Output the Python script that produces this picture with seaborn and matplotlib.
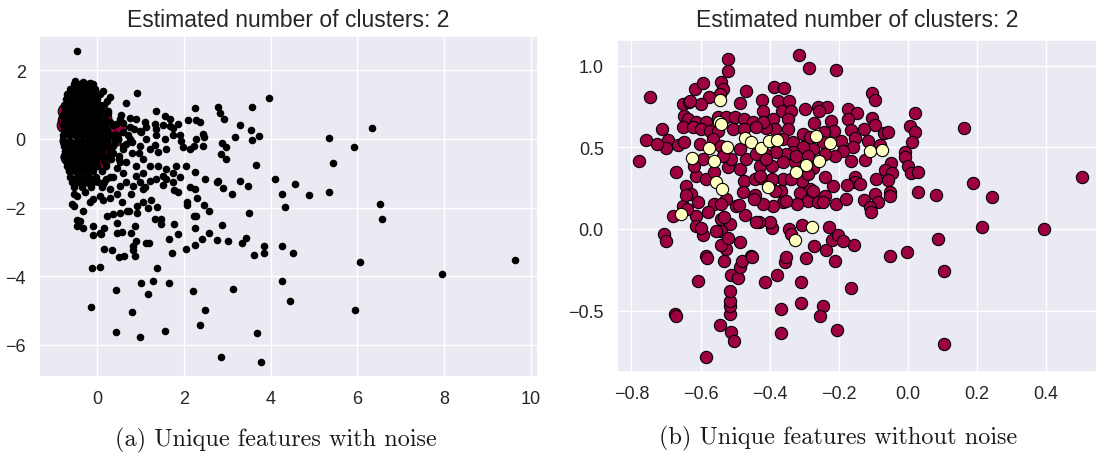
import matplotlib
matplotlib.use("Agg")
import matplotlib.pyplot as plt
import pandas as pd
import seaborn as sns

sns.set_theme(style="darkgrid")
plt.rcParams["font.family"] = ["Liberation Sans", "DejaVu Sans"]

title_text = "Estimated number of clusters: 2"
caption_a = "(a) Unique features with noise"
caption_b = "(b) Unique features without noise"
cluster_colors = ["#9e0142", "#ffffbf"]
noise_color = "black"

left_xticks = [0, 2, 4, 6, 8, 10]
left_yticks = [-6, -4, -2, 0, 2]
right_xticks = [-0.8, -0.6, -0.4, -0.2, 0.0, 0.2, 0.4]
right_yticks = [-0.5, 0.0, 0.5, 1.0]

# cluster 0 (maroon) core samples
cluster0 = [
    (-0.315, 1.067), (-0.285, 0.986), (-0.207, 0.976), (-0.388, 0.867), (-0.359, 0.863),
    (-0.103, 0.833), (-0.095, 0.79), (0.021, 0.71), (0.161, 0.616), (0.504, 0.316),
    (0.005, 0.629), (0.02, 0.592), (0.011, 0.531), (-0.008, 0.469), (-0.008, 0.439),
    (0.001, 0.388), (0.008, 0.341), (0.029, 0.347), (0.029, 0.224), (0.08, 0.208),
    (0.187, 0.282), (0.243, 0.194), (0.214, 0.014), (0.393, 0.002), (0.086, -0.061),
    (-0.002, -0.139), (-0.052, -0.163), (0.105, -0.259), (0.105, -0.706), (-0.164, -0.361),
    (-0.205, -0.618), (-0.245, -0.471), (-0.255, -0.535), (-0.309, -0.453), (-0.309, -0.324),
    (-0.368, -0.635), (-0.367, -0.49), (-0.379, -0.284), (-0.415, -0.327), (-0.357, -0.2),
    (-0.295, -0.18), (-0.211, -0.198), (-0.156, -0.098), (-0.271, -0.106), (-0.237, -0.127),
    (-0.22, -0.065), (-0.201, -0.04), (-0.189, -0.075), (-0.229, 0.01), (-0.306, 0.022),
    (-0.343, -0.002), (-0.394, 0.004), (-0.4, 0.041), (-0.43, 0.041),
    (-0.421, 0.79), (-0.376, 0.782), (-0.344, 0.782), (-0.419, 0.724), (-0.364, 0.72),
    (-0.337, 0.724), (-0.299, 0.735), (-0.26, 0.745), (-0.233, 0.749), (-0.173, 0.737),
    (-0.147, 0.712), (-0.257, 0.72), (-0.39, 0.673), (-0.347, 0.673), (-0.273, 0.649),
    (-0.224, 0.661), (-0.174, 0.671), (-0.103, 0.682), (-0.096, 0.637), (-0.126, 0.612),
    (-0.164, 0.604), (-0.215, 0.602), (-0.244, 0.596), (-0.286, 0.563), (-0.305, 0.584),
    (-0.347, 0.612), (-0.386, 0.612), (-0.41, 0.616), (-0.07, 0.588), (-0.057, 0.592),
    (-0.39, 0.531), (-0.361, 0.551), (-0.332, 0.531), (-0.284, 0.561), (-0.246, 0.531),
    (-0.193, 0.541), (-0.154, 0.555), (-0.117, 0.541), (-0.082, 0.514), (-0.159, 0.5),
    (-0.188, 0.48), (-0.212, 0.449), (-0.241, 0.459), (-0.275, 0.49), (-0.304, 0.5),
    (-0.332, 0.469), (-0.352, 0.459), (-0.381, 0.469), (-0.415, 0.459), (-0.429, 0.388),
    (-0.393, 0.388), (-0.361, 0.408), (-0.328, 0.408), (-0.275, 0.374), (-0.165, 0.416),
    (-0.125, 0.424), (-0.05, 0.404), (-0.066, 0.363), (-0.045, 0.343), (-0.092, 0.304),
    (-0.059, 0.298), (-0.152, 0.32), (-0.154, 0.286), (-0.139, 0.276), (-0.176, 0.272),
    (-0.217, 0.265), (-0.241, 0.316), (-0.284, 0.245), (-0.308, 0.296), (-0.361, 0.306),
    (-0.393, 0.306), (-0.424, 0.31), (-0.366, 0.235), (-0.313, 0.22), (-0.289, 0.17),
    (-0.26, 0.168), (-0.241, 0.204), (-0.207, 0.153), (-0.178, 0.184), (-0.128, 0.178),
    (-0.096, 0.214), (-0.086, 0.168), (-0.053, 0.225), (-0.053, 0.204), (-0.11, 0.133),
    (-0.108, 0.102), (-0.361, 0.163), (-0.39, 0.143), (-0.419, 0.153), (-0.321, 0.153),
    (-0.246, 0.163),
    (-0.521, 1.041), (-0.521, 0.97), (-0.615, 0.857), (-0.593, 0.894), (-0.47, 0.847),
    (-0.54, 0.898), (-0.535, 0.857), (-0.545, 0.827), (-0.576, 0.806), (-0.651, 0.766),
    (-0.634, 0.776), (-0.598, 0.766), (-0.487, 0.772), (-0.649, 0.694), (-0.637, 0.674),
    (-0.613, 0.653), (-0.584, 0.653), (-0.55, 0.684), (-0.526, 0.684), (-0.499, 0.684),
    (-0.473, 0.674), (-0.449, 0.653), (-0.42, 0.653), (-0.713, 0.613), (-0.695, 0.545),
    (-0.666, 0.515), (-0.7, 0.494), (-0.651, 0.623), (-0.622, 0.623), (-0.598, 0.613),
    (-0.574, 0.602), (-0.55, 0.602), (-0.506, 0.613), (-0.473, 0.613), (-0.439, 0.623),
    (-0.671, 0.347), (-0.642, 0.266), (-0.613, 0.327), (-0.627, 0.215), (-0.608, 0.164),
    (-0.584, 0.306), (-0.56, 0.347), (-0.521, 0.378), (-0.487, 0.368), (-0.468, 0.429),
    (-0.439, 0.46), (-0.41, 0.429), (-0.323, 0.449), (-0.289, 0.449), (-0.487, 0.49),
    (-0.511, 0.429), (-0.564, 0.551), (-0.603, 0.521), (-0.647, 0.531), (-0.54, 0.511),
    (-0.535, 0.449), (-0.593, 0.429), (-0.618, 0.388), (-0.473, 0.296), (-0.444, 0.307),
    (-0.429, 0.327), (-0.337, 0.307), (-0.289, 0.337), (-0.275, 0.235), (-0.386, 0.235),
    (-0.444, 0.205), (-0.477, 0.225), (-0.497, 0.143), (-0.526, 0.184), (-0.56, 0.153),
    (-0.579, 0.103), (-0.613, 0.082), (-0.651, 0.143), (-0.68, 0.082), (-0.54, 0.062),
    (-0.516, 0.031), (-0.613, 0.021), (-0.593, -0.04), (-0.54, -0.01), (-0.487, -0.081),
    (-0.526, -0.122), (-0.584, -0.163), (-0.54, -0.101), (-0.439, 0.041), (-0.337, -0.03),
    (-0.705, -0.03), (-0.453, -0.163), (-0.352, -0.173),
    (-0.746, 0.81), (-0.757, 0.547), (-0.777, 0.418), (-0.727, 0.52), (-0.631, 0.786),
    (-0.641, 0.208),
    (-0.701, -0.071), (-0.6, 0.004), (-0.581, -0.18), (-0.608, -0.32), (-0.674, -0.52),
    (-0.671, -0.535), (-0.583, -0.784), (-0.545, -0.588), (-0.513, -0.629), (-0.503, -0.684),
    (-0.515, -0.52), (-0.515, -0.473), (-0.515, -0.443), (-0.515, -0.378), (-0.513, -0.282),
    (-0.491, -0.302), (-0.487, -0.235), (-0.479, -0.194), (-0.45, -0.173), (-0.532, -0.194),
    (-0.522, -0.057), (-0.556, -0.01), (-0.532, 0.071), (-0.472, 0.088), (-0.639, 0.122),
    (-0.542, 0.153), (-0.489, 0.147), (-0.445, 0.184), (-0.354, 0.173),
]

# cluster 1 (pale yellow) core samples
cluster1 = [
    (-0.544, 0.788), (-0.547, 0.657), (-0.54, 0.643), (-0.577, 0.494), (-0.523, 0.5),
    (-0.624, 0.437), (-0.561, 0.417), (-0.472, 0.557), (-0.453, 0.531), (-0.426, 0.494),
    (-0.402, 0.541), (-0.378, 0.547), (-0.265, 0.567), (-0.294, 0.392), (-0.323, 0.351),
    (-0.555, 0.29), (-0.538, 0.245), (-0.405, 0.259), (-0.656, 0.092), (-0.279, 0.01),
    (-0.328, -0.067), (-0.225, 0.529), (-0.111, 0.476), (-0.076, 0.486), (-0.257, 0.414),
]

# noise samples (left panel only)
noise = [
    # dense core region
    (-0.55, 1.6), (-0.4, 1.6), (-0.25, 1.6), (-0.1, 1.6),
    (-0.62, 1.45), (-0.48, 1.45), (-0.33, 1.45), (-0.18, 1.45), (-0.05, 1.45),
    (-0.7, 1.3), (-0.55, 1.3), (-0.4, 1.3), (-0.25, 1.3), (-0.1, 1.3), (0.05, 1.3),
    (-0.72, 1.15), (-0.58, 1.15), (-0.44, 1.15), (-0.3, 1.15), (-0.15, 1.15), (0.0, 1.15), (0.22, 1.1), (0.3, 1.22),
    (-0.78, 1.0), (-0.64, 1.0), (-0.5, 1.0), (-0.36, 1.0), (-0.22, 1.0), (-0.08, 1.0), (0.06, 1.0), (0.15, 0.98),
    (-0.75, 0.85), (-0.6, 0.85), (-0.46, 0.85), (-0.32, 0.85), (-0.18, 0.85), (-0.04, 0.85), (0.08, 0.85),
    (-0.8, 0.7), (-0.66, 0.7), (-0.52, 0.7), (-0.38, 0.7), (-0.24, 0.7), (-0.1, 0.7), (0.04, 0.7), (0.25, 0.75),
    (-0.76, 0.55), (-0.62, 0.55), (-0.48, 0.55), (-0.34, 0.55), (-0.2, 0.55), (-0.06, 0.55), (0.08, 0.55), (0.2, 0.55),
    (-0.8, 0.4), (-0.66, 0.4), (-0.52, 0.4), (-0.38, 0.4), (-0.24, 0.4), (-0.1, 0.4), (0.04, 0.4), (0.18, 0.4), (0.35, 0.4),
    (-0.77, 0.25), (-0.63, 0.25), (-0.49, 0.25), (-0.35, 0.25), (-0.21, 0.25), (-0.07, 0.25), (0.07, 0.25), (0.22, 0.25),
    (-0.8, 0.1), (-0.66, 0.1), (-0.52, 0.1), (-0.38, 0.1), (-0.24, 0.1), (-0.1, 0.1), (0.04, 0.1), (0.18, 0.1), (0.32, 0.1), (0.45, 0.1),
    (-0.76, -0.05), (-0.62, -0.05), (-0.48, -0.05), (-0.34, -0.05), (-0.2, -0.05), (-0.06, -0.05), (0.08, -0.05), (0.22, -0.05), (0.4, -0.05),
    (-0.78, -0.2), (-0.64, -0.2), (-0.5, -0.2), (-0.36, -0.2), (-0.22, -0.2), (-0.08, -0.2), (0.06, -0.2), (0.2, -0.2), (0.35, -0.2), (0.6, -0.2),
    (-0.74, -0.35), (-0.6, -0.35), (-0.46, -0.35), (-0.32, -0.35), (-0.18, -0.35), (-0.04, -0.35), (0.1, -0.35), (0.3, -0.35),
    (-0.76, -0.5), (-0.62, -0.5), (-0.48, -0.5), (-0.34, -0.5), (-0.2, -0.5), (-0.06, -0.5), (0.08, -0.5), (0.25, -0.5), (0.5, -0.5),
    (-0.72, -0.65), (-0.58, -0.65), (-0.44, -0.65), (-0.3, -0.65), (-0.16, -0.65), (-0.02, -0.65), (0.15, -0.65),
    (-0.7, -0.8), (-0.56, -0.8), (-0.42, -0.8), (-0.28, -0.8), (-0.14, -0.8), (0.0, -0.8), (0.2, -0.8), (0.45, -0.85),
    (-0.66, -0.95), (-0.52, -0.95), (-0.38, -0.95), (-0.24, -0.95), (-0.1, -0.95), (0.1, -0.95),
    (-0.62, -1.1), (-0.48, -1.1), (-0.34, -1.1), (-0.2, -1.1), (-0.02, -1.1), (0.3, -1.1),
    (-0.58, -1.25), (-0.42, -1.25), (-0.26, -1.25), (-0.1, -1.25), (0.15, -1.25),
    (-0.55, -1.4), (-0.35, -1.4), (-0.15, -1.4), (0.1, -1.4),
    (0.3, 0.5), (0.4, 0.0), (0.35, -0.4), (0.6, -0.3), (0.7, 0.1), (0.55, 0.7), (0.8, -0.4),
    (0.25, 0.8), (0.6, 0.45), (0.85, 0.3), (0.65, -0.15), (0.5, -0.6), (0.8, -0.1), (1.0, 0.2), (0.95, -0.4),
    # upper / middle spread
    (-0.47, 2.57), (3.95, 1.19), (0.92, 1.35), (0.66, 1.05), (0.13, 1.4), (-0.1, 1.48),
    (-0.18, 1.64), (-0.33, 1.66), (-0.51, 1.68), (1.35, 0.8), (2.26, 0.9), (2.78, 0.93),
    (2.82, 0.76), (2.93, 0.59), (3.57, 0.93), (3.29, 0.41), (3.54, 0.26), (3.58, -0.03),
    (3.73, 0.08), (3.18, 0.05), (2.88, -0.12), (2.96, -0.24), (2.86, -0.44), (2.97, -0.59),
    (3.65, -0.76), (2.25, -0.96), (2.48, -1.17),
    (2.09, 0.54), (2.28, 0.54), (2.38, 0.49), (2.44, 0.15), (2.46, 0.05), (2.44, -0.2),
    (2.28, 0.0), (2.22, -0.2), (2.14, -0.29), (1.97, -0.24),
    (1.85, 0.44), (1.74, 0.31), (1.74, 0.1), (1.9, 0.1), (1.94, -0.05), (2.05, -0.78),
    (1.82, -0.8), (1.74, -0.98), (1.59, -0.88), (1.9, -1.12),
    (1.55, 0.68), (1.67, 0.59), (1.68, 0.39), (1.51, 0.41), (1.32, 0.44), (1.36, 0.29),
    (1.13, 0.34), (1.36, 0.1), (1.55, 0.0), (1.59, -0.29), (1.41, -0.39), (1.21, -0.29),
    (1.13, 0.0), (1.32, -0.17),
    (0.75, 0.6), (0.9, 0.59), (1.09, 0.49), (0.98, 0.24), (0.75, 0.34), (0.59, 0.2),
    (0.52, 0.59), (0.44, 0.44),
    (0.48, 0.0), (0.75, 0.0), (0.98, -0.2), (1.05, -0.59), (1.21, -0.78), (1.4, -0.78),
    (0.9, -0.78), (0.67, -0.68), (0.52, -0.68), (0.32, -0.59), (0.59, -0.98), (0.36, -1.12),
    (0.21, -1.17), (0.13, -1.32), (0.29, -1.46), (0.52, -1.37), (0.67, -1.27), (0.82, -1.37),
    (0.98, -1.27), (1.09, -1.41), (1.21, -1.22), (1.36, -1.17), (1.51, -1.07), (1.59, -1.17),
    (0.9, -1.07), (1.05, -0.98),
    (-0.29, -1.56), (-0.48, -1.66), (-0.1, -1.76), (0.05, -1.66), (-0.41, -2.39),
    (-0.1, -2.54), (0.05, -2.73), (-0.32, -1.27), (-0.17, -1.32), (0.02, -1.27),
    (6.33, 0.32), (5.35, 0.02), (5.93, -0.25), (5.43, -0.7),
    # lower spread
    (6.52, -1.91), (6.57, -2.34), (5.34, -1.54), (4.89, -1.63), (4.55, -1.32), (4.27, -1.61),
    (4.32, -1.98), (4.1, -1.17), (3.5, -2.15), (3.48, -1.37), (3.3, -1.22), (3.11, -1.61),
    (2.89, -1.43), (2.87, -2.5), (6.06, -3.59), (7.95, -3.93), (9.64, -3.54), (5.95, -4.99),
    (4.27, -4.13), (4.45, -4.72), (4.51, -3.32), (4.25, -3.12), (3.85, -3.12), (3.85, -3.32),
    (3.62, -3.37), (3.44, -2.89), (3.33, -3.02), (3.01, -2.99), (2.75, -2.94), (2.57, -2.74),
    (2.42, -2.93), (2.25, -3.09), (2.05, -3.2), (2.26, -2.6), (1.85, -2.76), (1.66, -2.93),
    (1.72, -3.34), (1.78, -2.47), (1.48, -2.34), (1.48, -2.49), (1.32, -2.34), (1.37, -3.75),
    (3.12, -4.39), (2.2, -4.44), (2.48, -4.98), (2.38, -5.43), (3.69, -5.65), (2.86, -6.35),
    (3.77, -6.49), (1.65, -4.2), (1.29, -4.13), (1.01, -4.2), (1.16, -4.52), (0.43, -4.4),
    (-0.15, -4.9), (0.81, -5.06), (0.42, -5.62), (0.99, -5.78), (1.57, -5.59),
    (-0.12, -3.77), (0.07, -3.74), (0.5, -3.43), (0.61, -3.41), (0.88, -3.41), (0.15, -3.2),
    (0.33, -3.24), (0.83, -3.24), (0.83, -3.12), (0.9, -2.99), (1.12, -3.04), (1.19, -3.02),
    (-0.11, -2.79), (0.08, -2.76), (0.46, -2.73), (0.56, -2.7), (0.78, -2.73), (0.88, -2.54),
    (0.16, -2.59), (-0.48, -2.54), (-0.32, -2.59), (-0.46, -2.36), (-0.32, -2.11),
    (-0.55, -1.95), (-0.59, -1.9), (-0.55, -1.61), (-0.18, -1.85),
    (0.14, -1.79), (0.29, -1.71), (0.45, -1.61), (0.56, -1.83), (0.72, -2.1), (0.91, -2.15),
    (0.91, -1.95), (1.06, -1.85), (1.18, -2.02), (1.37, -1.98),
    (0.22, -2.24), (0.37, -2.2), (0.52, -2.15), (0.69, -2.1), (0.45, -2.44),
    (0.78, -1.61), (1.06, -1.46), (1.24, -1.78),
    (1.51, -1.35), (1.75, -1.27), (1.78, -1.48), (2.08, -1.83), (2.08, -1.93), (2.29, -1.71),
    (2.46, -1.93), (2.58, -2.1), (2.28, -2.26), (2.22, -2.26), (2.14, -1.39), (2.26, -1.45),
    (2.76, -1.27), (2.78, -1.22), (1.86, -1.56),
]

df0 = pd.DataFrame(cluster0, columns=["x", "y"])
df1 = pd.DataFrame(cluster1, columns=["x", "y"])
dfn = pd.DataFrame(noise, columns=["x", "y"])

fig = plt.figure(figsize=(10.97, 4.56), dpi=100)
ax1 = fig.add_axes([0.0356, 0.1711, 0.4549, 0.7478])
ax2 = fig.add_axes([0.5624, 0.182, 0.4376, 0.728])

# left panel: clusters (large) then noise (small black) on top
sns.scatterplot(data=df0, x="x", y="y", ax=ax1, color=cluster_colors[0], s=110,
                edgecolor="black", linewidth=0.8, zorder=2, legend=False)
sns.scatterplot(data=df1, x="x", y="y", ax=ax1, color=cluster_colors[1], s=110,
                edgecolor="black", linewidth=0.8, zorder=3, legend=False)
sns.scatterplot(data=dfn, x="x", y="y", ax=ax1, color=noise_color, s=30,
                linewidth=0, zorder=4, legend=False)

# right panel: clusters only
sns.scatterplot(data=df0, x="x", y="y", ax=ax2, color=cluster_colors[0], s=78,
                edgecolor="black", linewidth=0.8, zorder=2, legend=False)
sns.scatterplot(data=df1, x="x", y="y", ax=ax2, color=cluster_colors[1], s=78,
                edgecolor="black", linewidth=0.8, zorder=3, legend=False)

ax1.set_xlim(-1.345, 10.17)
ax1.set_ylim(-6.94, 3.0)
ax1.set_xticks(left_xticks)
ax1.set_yticks(left_yticks)
ax2.set_xlim(-0.842, 0.547)
ax2.set_ylim(-0.876, 1.157)
ax2.set_xticks(right_xticks)
ax2.set_yticks(right_yticks)

for ax in (ax1, ax2):
    ax.set_xlabel("")
    ax.set_ylabel("")
    ax.tick_params(labelsize=13, colors="0.15")

ax1.set_title(title_text, fontsize=16.5, pad=7, color="0.15")
ax2.set_title(title_text, fontsize=16.5, pad=10, color="0.15")

fig.text(0.2516, 0.035, caption_a, ha="center", va="center", fontsize=17.5,
         family="cmr10", color="0.1")
fig.text(0.764, 0.039, caption_b, ha="center", va="center", fontsize=17.5,
         family="cmr10", color="0.1")

fig.savefig("out.png", dpi=100)
